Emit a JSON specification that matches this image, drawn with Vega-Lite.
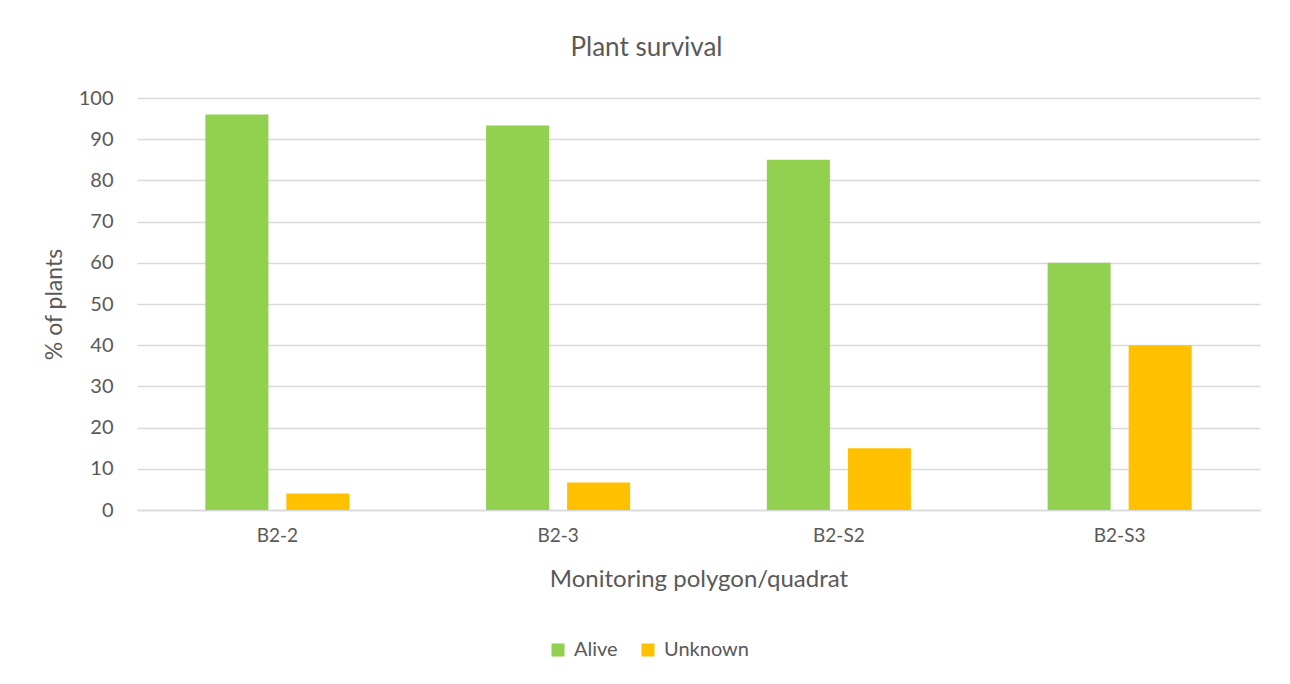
{
  "$schema": "https://vega.github.io/schema/vega-lite/v6.json",
  "width": 1123,
  "height": 412,
  "autosize": {"type": "none"},
  "padding": {"left": 137, "top": 98, "right": 30, "bottom": 174},
  "background": "white",
  "title": {
    "text": "Plant survival",
    "anchor": "middle",
    "dx": -52,
    "offset": 27,
    "fontSize": 26,
    "font": "Lato",
    "fontWeight": "normal",
    "color": "#595959"
  },
  "data": {
    "values": [
      {"quadrat": "B2-2", "status": "Alive", "pct": 96},
      {"quadrat": "B2-2", "status": "Unknown", "pct": 4},
      {"quadrat": "B2-3", "status": "Alive", "pct": 93.3},
      {"quadrat": "B2-3", "status": "Unknown", "pct": 6.7},
      {"quadrat": "B2-S2", "status": "Alive", "pct": 85},
      {"quadrat": "B2-S2", "status": "Unknown", "pct": 15},
      {"quadrat": "B2-S3", "status": "Alive", "pct": 60},
      {"quadrat": "B2-S3", "status": "Unknown", "pct": 40}
    ]
  },
  "mark": {"type": "bar"},
  "encoding": {
    "x": {
      "field": "quadrat",
      "type": "nominal",
      "sort": null,
      "scale": {"paddingInner": 0, "paddingOuter": 0},
      "axis": {
        "title": "Monitoring polygon/quadrat",
        "titleFontSize": 24,
        "titleFont": "Lato",
        "titleFontWeight": "normal",
        "titleColor": "#595959",
        "titlePadding": 22,
        "labelAngle": 0,
        "labelFontSize": 19,
        "labelFont": "Lato",
        "labelColor": "#595959",
        "labelPadding": 16,
        "ticks": false,
        "domainColor": "#d9d9d9",
        "domainWidth": 1.5,
        "grid": false
      }
    },
    "xOffset": {
      "field": "status",
      "type": "nominal",
      "scale": {"paddingInner": 0.222, "paddingOuter": 0.844}
    },
    "y": {
      "field": "pct",
      "type": "quantitative",
      "scale": {"domain": [0, 100]},
      "axis": {
        "title": "% of plants",
        "titleFontSize": 23,
        "titleFont": "Lato",
        "titleFontWeight": "normal",
        "titleColor": "#595959",
        "titlePadding": 12,
        "values": [0, 10, 20, 30, 40, 50, 60, 70, 80, 90, 100],
        "labelFontSize": 20,
        "labelFont": "Lato",
        "labelColor": "#595959",
        "labelPadding": 24,
        "ticks": false,
        "domain": false,
        "gridColor": "#d9d9d9",
        "gridWidth": 1.5
      }
    },
    "color": {
      "field": "status",
      "type": "nominal",
      "scale": {"domain": ["Alive", "Unknown"], "range": ["#92D050", "#FFC000"]},
      "legend": {
        "title": null,
        "orient": "none",
        "direction": "horizontal",
        "legendX": 411,
        "legendY": 542,
        "symbolType": "square",
        "symbolSize": 170,
        "symbolStrokeWidth": 0,
        "labelFontSize": 20,
        "labelFont": "Lato",
        "labelColor": "#595959",
        "columnPadding": 20,
        "labelOffset": 6
      }
    }
  },
  "config": {"view": {"stroke": null}}
}
